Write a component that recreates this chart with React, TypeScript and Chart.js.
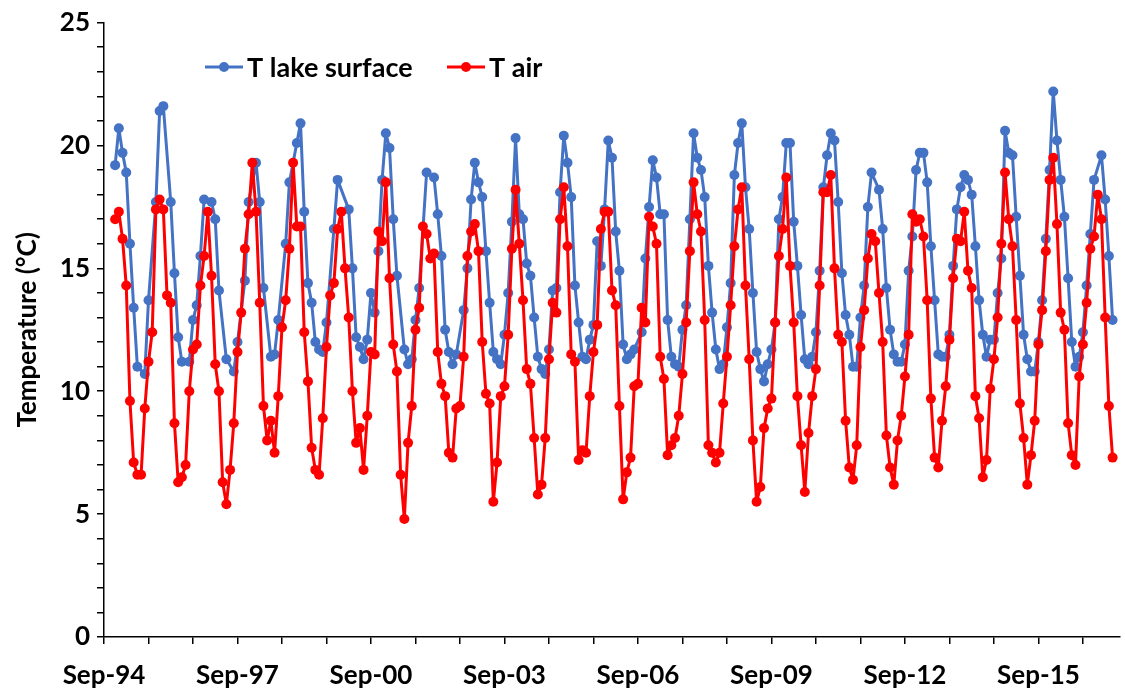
import React, { useEffect, useRef } from 'react';
import { Chart, registerables } from 'chart.js';

Chart.register(...registerables);

// x axis origin (Sep-94) and first month of the monthly series (Dec-94)
const axisStart = { year: 1994, month: 9 };
const seriesStart = { year: 1994, month: 12 };
const axisEndMonths = 274;
const xTickLabels = ['Sep-94', 'Sep-97', 'Sep-00', 'Sep-03', 'Sep-06', 'Sep-09', 'Sep-12', 'Sep-15'];
const yRange = { min: 0, max: 25 };

const seriesNames = ['T lake surface', 'T air'];

// monthly lake surface temperature (°C), null = no visible point
const lakeSurface: (number | null)[] = [
  19.2, 20.7, 19.7, 18.9, 16.0, 13.4, 11.0, null, 10.7, 13.7, null, 17.7,
  21.4, 21.6, null, 17.7, 14.8, 12.2, 11.2, null, 11.2, 12.9, 13.5, 15.5,
  17.8, null, 17.7, 17.0, 14.1, null, 11.3, null, 10.8, 12.0, null, 14.5,
  17.7, null, 19.3, 17.7, 14.2, null, 11.4, 11.5, 12.9, null, 16.0, 18.5,
  null, 20.1, 20.9, 17.3, 14.4, 13.6, 12.0, 11.7, 11.6, 12.8, null, 16.6,
  18.6, null, null, 17.4, 15.0, 12.2, 11.8, 11.3, 12.1, 14.0, 13.2, 15.7,
  18.6, 20.5, 19.9, 17.0, 14.7, null, 11.7, 11.1, 11.3, 12.9, 14.2, null,
  18.9, null, 18.7, 17.2, 15.5, 12.5, 11.6, 11.1, 11.5, null, 13.3, 15.0,
  17.8, 19.3, 18.5, 17.9, 15.7, 13.6, 11.6, 11.3, 11.1, 12.3, 14.0, 16.9,
  20.3, 17.2, 17.0, 15.2, 14.7, 13.0, 11.4, 10.9, 10.7, 11.7, 14.1, 14.2,
  18.1, 20.4, 19.3, 17.9, 14.3, 12.8, 11.4, 11.3, 12.1, 12.7, 16.1, 15.1,
  17.4, 20.2, 19.5, 16.5, 14.9, 11.9, 11.3, 11.5, 11.7, null, 12.4, 15.4,
  17.5, 19.4, 18.7, 17.2, 17.2, 12.9, 11.4, 11.1, 11.0, 12.5, 13.5, 17.0,
  20.5, 19.5, 19.0, 17.9, 15.1, 13.2, 11.7, 10.9, 11.1, 12.6, 14.4, 18.8,
  20.1, 20.9, 18.3, 16.6, 14.0, 11.6, 10.9, 10.4, 11.1, 11.7, 12.8, 17.0,
  17.9, 20.1, 20.1, 16.9, 15.1, 13.1, 11.3, 11.1, 11.4, 12.4, 14.9, 18.3,
  19.6, 20.5, 20.2, 17.7, 14.8, 13.1, 12.3, 11.0, 11.0, 13.0, 14.3, 17.5,
  18.9, null, 18.2, 16.6, 14.2, 12.5, 11.5, 11.2, 11.2, 11.9, 14.9, 16.3,
  19.0, 19.7, 19.7, 18.5, 15.9, 13.7, 11.5, 11.4, 11.4, 12.3, 15.1, 17.4,
  18.3, 18.8, 18.6, 18.0, 15.9, 13.7, 12.3, 11.4, 12.1, 12.1, 14.0, 15.4,
  20.6, 19.7, 19.6, 17.1, 14.7, 12.3, 11.3, 10.8, 10.8, 12.0, 13.7, 16.2,
  19.0, 22.2, 20.2, 18.6, 17.1, 14.6, 12.0, 11.0, 11.4, 12.4, 14.3, 16.4,
  18.6, null, 19.6, 17.8, 15.5, 12.9,
];

// monthly air temperature (°C)
const airTemperature: number[] = [
  17.0, 17.3, 16.2, 14.3, 9.6, 7.1, 6.6, 6.6, 9.3, 11.2, 12.4, 17.4,
  17.8, 17.4, 13.9, 13.6, 8.7, 6.3, 6.5, 7.0, 10.0, 11.7, 11.9, 14.3,
  15.5, 17.3, 14.7, 11.1, 10.0, 6.3, 5.4, 6.8, 8.7, 11.6, 13.2, 15.8,
  17.2, 19.3, 17.3, 13.6, 9.4, 8.0, 8.8, 7.5, 9.8, 12.6, 13.7, 15.8,
  19.3, 16.7, 16.7, 12.4, 10.4, 7.7, 6.8, 6.6, 8.9, 11.8, 13.9, 14.4,
  16.6, 17.3, 15.0, 13.0, 10.0, 7.9, 8.5, 6.8, 9.0, 11.6, 11.5, 16.5,
  16.1, 18.5, 14.6, 11.9, 10.8, 6.6, 4.8, 7.9, 9.4, 12.5, 13.4, 16.7,
  16.4, 15.4, 15.6, 11.6, 10.3, 9.8, 7.5, 7.3, 9.3, 9.4, 11.4, 15.5,
  16.5, 16.8, 15.7, 12.0, 9.9, 9.5, 5.5, 7.1, 9.8, 10.2, 12.3, 15.8,
  18.2, 16.0, 13.7, 10.9, 10.3, 8.1, 5.8, 6.2, 8.1, 11.3, 13.6, 13.2,
  17.0, 18.3, 15.9, 11.5, 11.2, 7.2, 7.6, 7.5, 9.8, 11.6, 12.7, 16.6,
  17.3, 17.3, 14.1, 13.5, 9.4, 5.6, 6.7, 7.3, 10.2, 10.3, 13.4, 12.8,
  17.1, 16.7, 16.0, 11.4, 10.5, 7.4, 7.8, 8.1, 9.0, 10.7, 12.8, 15.7,
  18.5, 17.2, 16.5, 12.9, 7.8, 7.5, 7.1, 7.5, 9.5, 11.4, 13.5, 15.9,
  17.4, 18.3, 14.3, 11.3, 8.0, 5.5, 6.1, 8.5, 9.3, 9.7, 12.8, 15.5,
  16.6, 18.7, 15.1, 12.8, 9.8, 7.8, 5.9, 8.3, 9.8, 10.9, 14.3, 18.1,
  18.1, 18.8, 15.0, 12.3, 12.0, 8.8, 6.9, 6.4, 7.8, 11.8, 13.3, 15.4,
  16.4, 16.1, 14.0, 12.0, 8.2, 6.9, 6.2, 8.0, 9.0, 10.6, 12.3, 17.2,
  16.9, 17.0, 16.3, 13.7, 9.7, 7.3, 6.9, 8.8, 10.2, 12.1, 14.6, 16.2,
  16.1, 17.3, 14.9, 14.2, 9.8, 8.9, 6.5, 7.2, 10.1, 11.3, 13.0, 16.0,
  18.9, 17.0, 15.9, 12.9, 9.5, 8.1, 6.2, 7.4, 8.8, 11.9, 13.3, 15.7,
  18.6, 19.5, 16.8, 13.2, 12.5, 8.7, 7.4, 7.0, 10.6, 11.9, 13.6, 15.8,
  16.3, 18.0, 17.0, 13.0, 9.4, 7.3,
];

const seriesColors = ['#4472C4', '#FF0000'];
const FONT = "Lato, 'Open Sans', 'DejaVu Sans', sans-serif";

const monthOffset =
  (seriesStart.year - axisStart.year) * 12 + (seriesStart.month - axisStart.month);

const toPoints = (arr: (number | null)[]) =>
  arr.map((v, i) => ({ x: monthOffset + i, y: v }));

const legendPlugin = {
  id: 'customLegend',
  afterDraw(chart: any) {
    const ctx = chart.ctx;
    const spots = [
      { x: 205, y: 67 },
      { x: 447, y: 67 },
    ];
    ctx.save();
    chart.data.datasets.forEach((ds: any, i: number) => {
      const s = spots[i];
      ctx.strokeStyle = ds.borderColor;
      ctx.fillStyle = ds.borderColor;
      ctx.lineWidth = 3;
      ctx.beginPath();
      ctx.moveTo(s.x, s.y);
      ctx.lineTo(s.x + 38, s.y);
      ctx.stroke();
      ctx.beginPath();
      ctx.arc(s.x + 19, s.y, 5, 0, Math.PI * 2);
      ctx.fill();
      ctx.fillStyle = '#000';
      ctx.font = `bold 27px ${FONT}`;
      ctx.textBaseline = 'middle';
      ctx.textAlign = 'left';
      ctx.fillText(ds.label, s.x + 42, s.y + 1);
    });
    ctx.restore();
  },
};

export default function App() {
  const ref = useRef<HTMLCanvasElement | null>(null);

  useEffect(() => {
    if (!ref.current) return;
    Chart.defaults.font.family = FONT;
    const lineStyle = {
      pointBorderWidth: 0,
      pointRadius: 5,
      borderWidth: 3,
      spanGaps: true,
      tension: 0,
      borderJoinStyle: 'round',
      borderCapStyle: 'round',
    };
    const chart = new Chart(ref.current, {
      type: 'line',
      data: {
        datasets: [
          {
            label: seriesNames[0],
            data: toPoints(lakeSurface),
            borderColor: seriesColors[0],
            backgroundColor: seriesColors[0],
            pointBackgroundColor: seriesColors[0],
            ...lineStyle,
            order: 1,
          },
          {
            label: seriesNames[1],
            data: toPoints(airTemperature),
            borderColor: seriesColors[1],
            backgroundColor: seriesColors[1],
            pointBackgroundColor: seriesColors[1],
            ...lineStyle,
            order: 0,
          },
        ],
      },
      options: {
        responsive: false,
        animation: false,
        devicePixelRatio: 1,
        layout: { padding: { top: 18, right: 3, left: 0, bottom: 0 } },
        plugins: {
          legend: { display: false },
          tooltip: { enabled: false },
        },
        scales: {
          x: {
            type: 'linear',
            min: 0,
            max: axisEndMonths,
            afterFit: (scale: any) => {
              scale.height = 58;
            },
            grid: {
              display: true,
              drawOnChartArea: false,
              drawTicks: true,
              tickLength: 7,
              color: '#000',
              lineWidth: 1.5,
            },
            border: { display: true, color: '#000', width: 1.5 },
            ticks: {
              stepSize: 12,
              includeBounds: false,
              autoSkip: false,
              maxRotation: 0,
              minRotation: 0,
              padding: 16,
              color: '#000',
              font: { size: 26, weight: 'bold', family: FONT },
              callback: (value: any) => {
                const v = Number(value);
                return v % 36 === 0 ? xTickLabels[v / 36] ?? '' : '';
              },
            },
          },
          y: {
            min: yRange.min,
            max: yRange.max,
            afterFit: (scale: any) => {
              scale.width = 104;
            },
            grid: {
              display: true,
              drawOnChartArea: false,
              drawTicks: true,
              tickLength: 7,
              color: '#000',
              lineWidth: 1.5,
            },
            border: { display: true, color: '#000', width: 1.5 },
            ticks: {
              stepSize: 1,
              autoSkip: false,
              padding: 7,
              color: '#000',
              font: { size: 26, weight: 'bold', family: FONT },
              callback: (value: any) => {
                const v = Number(value);
                return v % 5 === 0 ? String(v) : '';
              },
            },
            title: {
              display: true,
              text: 'Temperature (°C)',
              color: '#000',
              font: { size: 26, weight: 'bold', family: FONT },
              padding: { top: 12, bottom: 0 },
            },
          },
        },
      },
      plugins: [legendPlugin],
    } as any);
    return () => chart.destroy();
  }, []);

  return (
    <div style={{ position: 'absolute', left: 0, top: 0, width: 1125, height: 695, background: '#fff' }}>
      <canvas ref={ref} width={1125} height={695} style={{ display: 'block' }} />
    </div>
  );
}
